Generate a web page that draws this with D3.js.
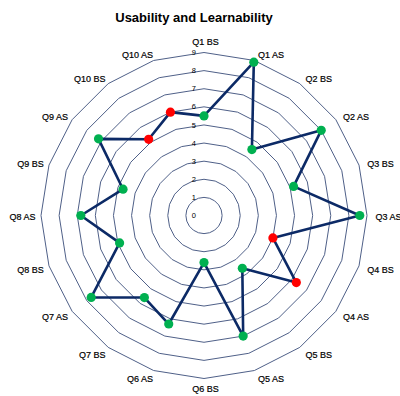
<!DOCTYPE html>
<html>
<head>
<meta charset="utf-8">
<script src="https://cdn.jsdelivr.net/npm/d3@7"></script>
<style>
  html, body { margin: 0; padding: 0; background: #fff; }
  svg { display: block; font-family: "Liberation Sans", Arial, sans-serif; }
</style>
</head>
<body>
<svg id="chart" width="400" height="396"></svg>
<script>
// Questionnaire items: before-session (BS) and after-session (AS) for Q1..Q10
const categories = [
  "Q1 BS", "Q1 AS", "Q2 BS", "Q2 AS", "Q3 BS", "Q3 AS", "Q4 BS", "Q4 AS",
  "Q5 BS", "Q5 AS", "Q6 BS", "Q6 AS", "Q7 BS", "Q7 AS", "Q8 BS", "Q8 AS",
  "Q9 BS", "Q9 AS", "Q10 BS", "Q10 AS"
];
// Mean score per item
const scores = [
  5.5, 8.9, 4.5, 8.0, 5.2, 8.6, 4.0, 6.3,
  3.6, 7.0, 2.6, 6.3, 5.6, 7.7, 4.9, 6.8,
  4.7, 7.2, 5.2, 6.0
];
// Items highlighted in red
const flagged = ["Q4 BS", "Q4 AS", "Q10 BS", "Q10 AS"];
// Radial tick values
const ticks = [0, 1, 2, 3, 4, 5, 6, 7, 8, 9];

const cx = 204, cy = 215.5, R = 163;
const svg = d3.select("#chart");

svg.append("text")
  .attr("x", 194).attr("y", 22)
  .attr("text-anchor", "middle")
  .attr("font-size", 13).attr("font-weight", "bold")
  .attr("fill", "#000")
  .text("Usability and Learnability");

const g = svg.append("g").attr("transform", `translate(${cx},${cy})`);

const angle = d3.scalePoint()
  .domain(categories.concat(["__end"]))
  .range([0, 2 * Math.PI]);
const r = d3.scaleLinear().domain([0, 9]).range([0, R]);

// Polygonal grid rings
const ring = d3.lineRadial()
  .angle(c => angle(c))
  .curve(d3.curveLinearClosed);
g.selectAll("path.grid")
  .data(ticks.filter(t => t > 0))
  .join("path")
  .attr("class", "grid")
  .attr("d", t => ring.radius(() => r(t))(categories))
  .attr("fill", "none")
  .attr("stroke", "#4f6088")
  .attr("stroke-width", 1);

// Radial tick labels
g.selectAll("text.tick")
  .data(ticks)
  .join("text")
  .attr("class", "tick")
  .attr("x", -8)
  .attr("y", t => -r(t))
  .attr("dy", "0.35em")
  .attr("text-anchor", "end")
  .attr("font-size", 7.5)
  .attr("fill", "#000")
  .text(t => t);

// Category labels, placed just outside the outer ring
g.selectAll("text.cat")
  .data(categories)
  .join("text")
  .attr("class", "cat")
  .each(function(c) {
    const a = angle(c);
    const s = Math.sin(a), co = Math.cos(a);
    const anchor = s > 0.1 ? "start" : (s < -0.1 ? "end" : "middle");
    const ry = anchor === "middle" ? (co > 0 ? 175.5 : 172) : 170.5;
    d3.select(this)
      .attr("x", 1.5 + 170 * s)
      .attr("y", 1.5 - ry * co)
      .attr("dy", "0.35em")
      .attr("text-anchor", anchor);
  })
  .attr("font-size", 9)
  .attr("fill", "#000")
  .attr("stroke", "#000")
  .attr("stroke-width", 0.2)
  .text(c => c);

// Score line
const line = d3.lineRadial()
  .angle((d, i) => angle(categories[i]))
  .radius(d => r(d))
  .curve(d3.curveLinearClosed);
g.append("path")
  .attr("d", line(scores))
  .attr("fill", "none")
  .attr("stroke", "#0c2a66")
  .attr("stroke-width", 2.6)
  .attr("stroke-linejoin", "round");

// Markers
g.selectAll("circle.pt")
  .data(categories)
  .join("circle")
  .attr("class", "pt")
  .attr("cx", (c, i) => r(scores[i]) * Math.sin(angle(c)))
  .attr("cy", (c, i) => -r(scores[i]) * Math.cos(angle(c)))
  .attr("r", 4.6)
  .attr("fill", c => flagged.includes(c) ? "#ff0000" : "#00b050");
</script>
</body>
</html>
